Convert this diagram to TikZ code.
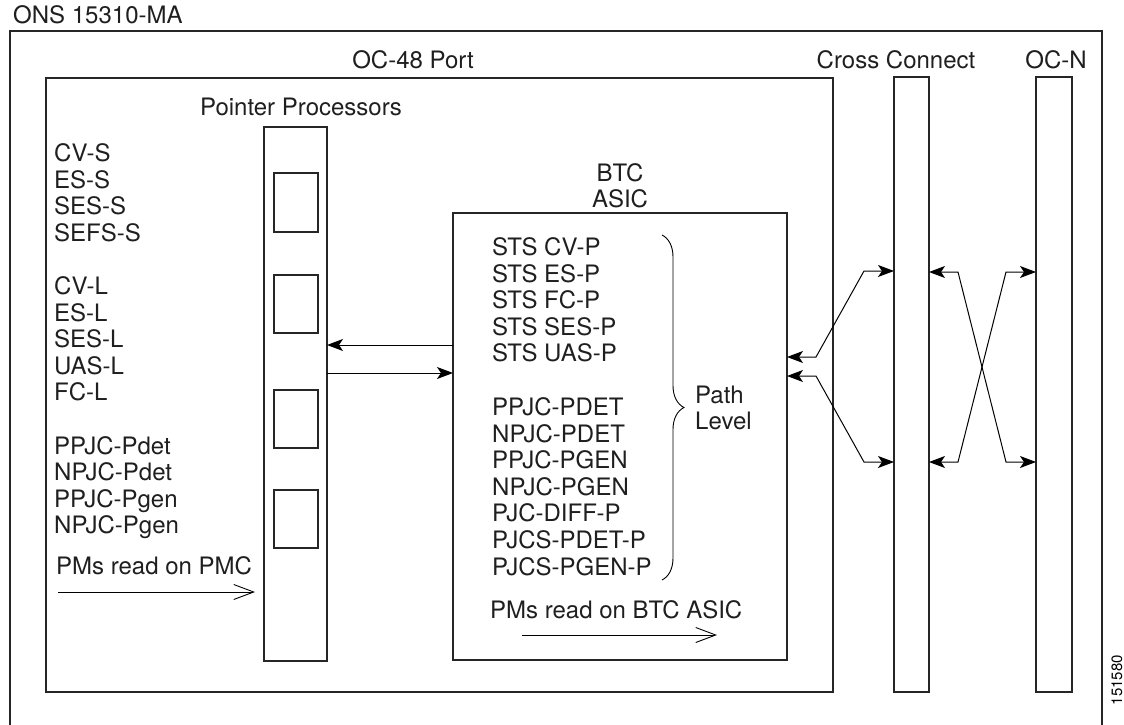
\documentclass[tikz,border=0pt]{standalone}
\usepackage{fontspec}
\setmainfont{TeX Gyre Heros}
\usetikzlibrary{arrows.meta,decorations.pathreplacing}
\begin{document}
\begin{tikzpicture}[x=1pt,y=-1pt,
  box/.style={draw=black!85,line width=1.3pt,inner sep=0pt,outer sep=0pt,anchor=north west},
  lbl/.style={anchor=base west,inner sep=0pt,font=\fontsize{24}{27}\selectfont,text=black!88},
  clbl/.style={anchor=base,inner sep=0pt,font=\fontsize{24}{27}\selectfont,text=black!88},
  arr/.style={line width=1pt,-{Stealth[length=16pt,width=12pt,inset=4pt]}},
  darr/.style={line width=1pt,{Stealth[length=16pt,width=12pt,inset=4pt]}-{Stealth[length=16pt,width=12pt,inset=4pt]}},
  oarr/.style={line width=0.9pt,-{Straight Barb[length=20pt,width=15pt,line width=0.9pt]}}]
\clip (0,0) rectangle (1124,725);
\fill[white] (0,0) rectangle (1124,725);
% boxes
\node[box,minimum width=1092,minimum height=720] (ons) at (10,31) {};
\node[box,minimum width=787,minimum height=614] (oc48) at (46,78) {};
\node[box,minimum width=63,minimum height=534] (pp) at (264,127) {};
\node[box,minimum width=44,minimum height=59] (sq1) at (274,173) {};
\node[box,minimum width=44,minimum height=58] (sq2) at (274,275) {};
\node[box,minimum width=44,minimum height=58] (sq3) at (274,390) {};
\node[box,minimum width=44,minimum height=58] (sq4) at (274,490) {};
\node[box,minimum width=334,minimum height=447] (btc) at (453,213) {};
\node[box,minimum width=35,minimum height=615] (cc) at (894,77) {};
\node[box,minimum width=36,minimum height=615] (ocn) at (1036,77) {};
% titles
\node[lbl] (tons) at (13,24) {ONS 15310-MA};
\node[clbl] (toc48) at (413,68) {OC-48 Port};
\node[clbl] (tpp) at (301,115) {Pointer Processors};
\node[clbl] (tcc) at (896,68) {Cross Connect};
\node[clbl] (tocn) at (1056,68) {OC-N};
\node[clbl] (tbtc) at (620,181) {BTC};
\node[clbl] (tasic) at (620,207) {ASIC};
% left column
\foreach \t [count=\i] in {CV-S,ES-S,SES-S,SEFS-S}
  \node[lbl] (ls\i) at (54,{161.5+26.6*(\i-1)}) {\t};
\foreach \t [count=\i] in {CV-L,ES-L,SES-L,UAS-L,FC-L}
  \node[lbl] (ll\i) at (54,{294.5+26.6*(\i-1)}) {\t};
\foreach \t [count=\i] in {PPJC-Pdet,NPJC-Pdet,PPJC-Pgen,NPJC-Pgen}
  \node[lbl] (lp\i) at (54,{454+26.6*(\i-1)}) {\t};
\node[lbl] (lpmc) at (56,574) {PMs read on PMC};
% BTC column
\foreach \t [count=\i] in {STS CV-P,STS ES-P,STS FC-P,STS SES-P,STS UAS-P}
  \node[lbl] (bs\i) at (492,{255.5+26.6*(\i-1)}) {\t};
\foreach \t [count=\i] in {PPJC-PDET,NPJC-PDET,PPJC-PGEN,NPJC-PGEN,PJC-DIFF-P,PJCS-PDET-P,PJCS-PGEN-P}
  \node[lbl] (bp\i) at (492,{415.5+26.6*(\i-1)}) {\t};
\node[lbl] (bpmc) at (490,618) {PMs read on BTC ASIC};
\node[lbl] (tpath) at (695,403.5) {Path};
\node[lbl] (tlevel) at (695,429.5) {Level};
\node[inner sep=0pt,rotate=90,font=\fontsize{15}{18}\selectfont] (tnum) at (1117,680) {151580};
% brace
\coordinate (brt) at (662,235);
\coordinate (brb) at (662,580);
\draw[line width=0.9pt,decorate,decoration={brace,amplitude=22pt}] (brt) -- (brb);
% PM arrows
\coordinate (pmca) at (58,592);
\coordinate (pmcb) at (255,592);
\draw[oarr] (pmca) -- (pmcb);
\coordinate (btca) at (522,635);
\coordinate (btcb) at (717,635);
\draw[oarr] (btca) -- (btcb);
% PP <-> BTC
\draw[arr] (btc.west |- 0,345) -- (pp.east |- 0,345);
\draw[arr] (pp.east |- 0,373) -- (btc.west |- 0,373);
% BTC <-> CC
\draw[darr] (btc.east |- 0,357) -- (816,357) -- (864,271) -- (cc.west |- 0,271);
\draw[darr] (btc.east |- 0,376) -- (816,376) -- (864,462) -- (cc.west |- 0,462);
% CC <-> OC-N
\draw[darr] (cc.east |- 0,272) -- (958,272) -- (1006,462) -- (ocn.west |- 0,462);
\draw[darr] (cc.east |- 0,462) -- (958,462) -- (1006,272) -- (ocn.west |- 0,272);
\end{tikzpicture}
\end{document}
